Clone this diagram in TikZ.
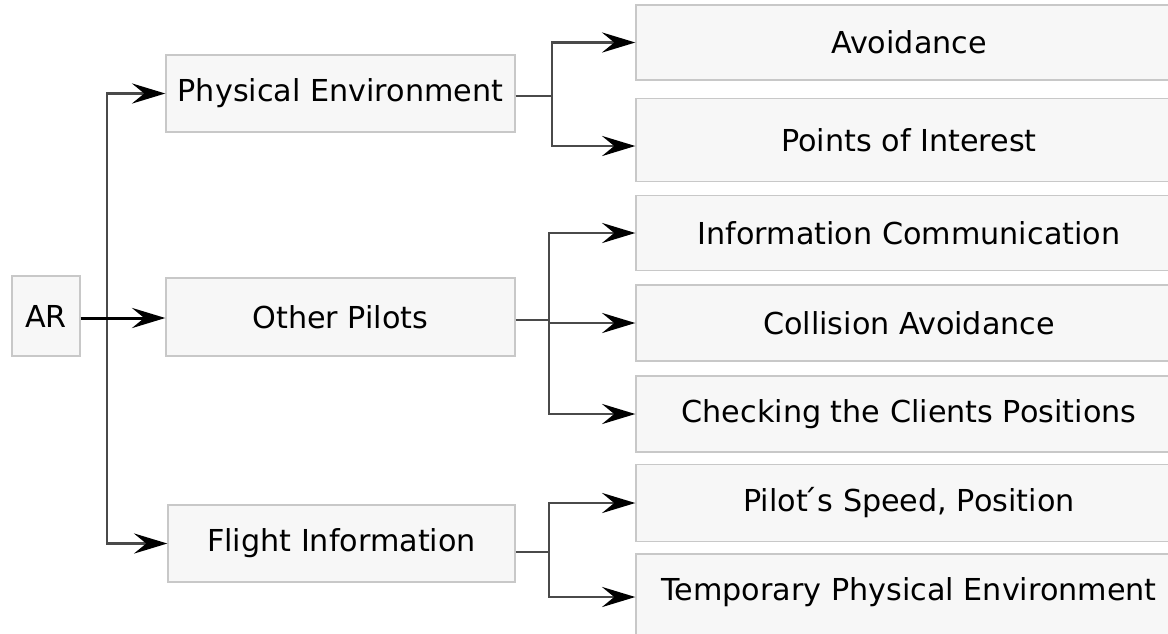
\documentclass[tikz,border=0pt]{standalone}
\usepackage{fontspec}
\setmainfont{DejaVu Sans}
\usetikzlibrary{arrows.meta}
\definecolor{boxfill}{HTML}{F7F7F7}
\definecolor{boxline}{HTML}{C8C8C8}
\definecolor{linkgray}{HTML}{4A4A4A}
\tikzset{
	box/.style={draw=boxline, fill=boxfill, line width=0.8pt, rectangle, inner sep=0pt, font=\fontsize{17.2}{20}\selectfont},
	link/.style={draw=linkgray, line width=1.4pt, -{Stealth[length=19pt, width=11.5pt, inset=7pt, color=black]}},
	stem/.style={draw=linkgray, line width=1.4pt}
}
\begin{document}
\begin{tikzpicture}[x=0.02cm, y=-0.02cm]
	\useasboundingbox (0,0) rectangle (1168,633);
	% first and second level
	\node[box, minimum width=68*0.02cm, minimum height=80*0.02cm] (ar) at (46,316) {AR};
	\node[box, minimum width=349*0.02cm, minimum height=77*0.02cm] (phys) at (340.5,93.5) {Physical Environment};
	\node[box, minimum width=349*0.02cm, minimum height=78*0.02cm] (pilots) at (340.5,317) {Other Pilots};
	\node[box, minimum width=347*0.02cm, minimum height=77*0.02cm] (flight) at (341.5,543.5) {Flight Information};
	% third level
	\node[box, minimum width=546*0.02cm, minimum height=75*0.02cm] (avoid) at (909,42.5) {Avoidance};
	\node[box, minimum width=546*0.02cm, minimum height=83*0.02cm] (poi) at (909,140) {Points of Interest};
	\node[box, minimum width=546*0.02cm, minimum height=75*0.02cm] (info) at (909,233) {Information Communication};
	\node[box, minimum width=546*0.02cm, minimum height=76*0.02cm] (coll) at (909,323) {Collision Avoidance};
	\node[box, minimum width=546*0.02cm, minimum height=76*0.02cm] (check) at (909,414) {Checking the Clients Positions};
	\node[box, minimum width=546*0.02cm, minimum height=77*0.02cm] (speed) at (909,503) {Pilot\'{}s Speed, Position};
	\node[box, minimum width=546*0.02cm, minimum height=92*0.02cm, text depth=12pt] (temp) at (909,600) {Temporary Physical Environment};
	% junctions
	\coordinate (j0) at (107,318);
	\coordinate (j1) at (552,96);
	\coordinate (j2) at (549,320);
	\coordinate (j3) at (549,552);
	% connectors
	\draw[link] (j0) |- (phys.west);
	\draw[link] (j0) |- (flight.west);
	\draw[line width=1.7pt, -{Stealth[length=19pt, width=11.5pt, inset=7pt]}] (ar.east |- j0) -- (pilots.west |- j0);
	\draw[stem] (phys.east |- j1) -- (j1);
	\draw[link] (j1) |- (avoid.west);
	\draw[link] (j1) |- ([yshift=-6*0.02cm]poi.west);
	\draw[stem] (pilots.east |- j2) -- (j2);
	\draw[link] (j2) |- (info.west);
	\draw[link] (j2) |- (coll.west);
	\draw[link] (j2) |- (check.west);
	\draw[stem] (flight.east |- j3) -- (j3);
	\draw[link] (j3) |- (speed.west);
	\draw[link] (j3) |- ([yshift=3*0.02cm]temp.west);
\end{tikzpicture}
\end{document}
